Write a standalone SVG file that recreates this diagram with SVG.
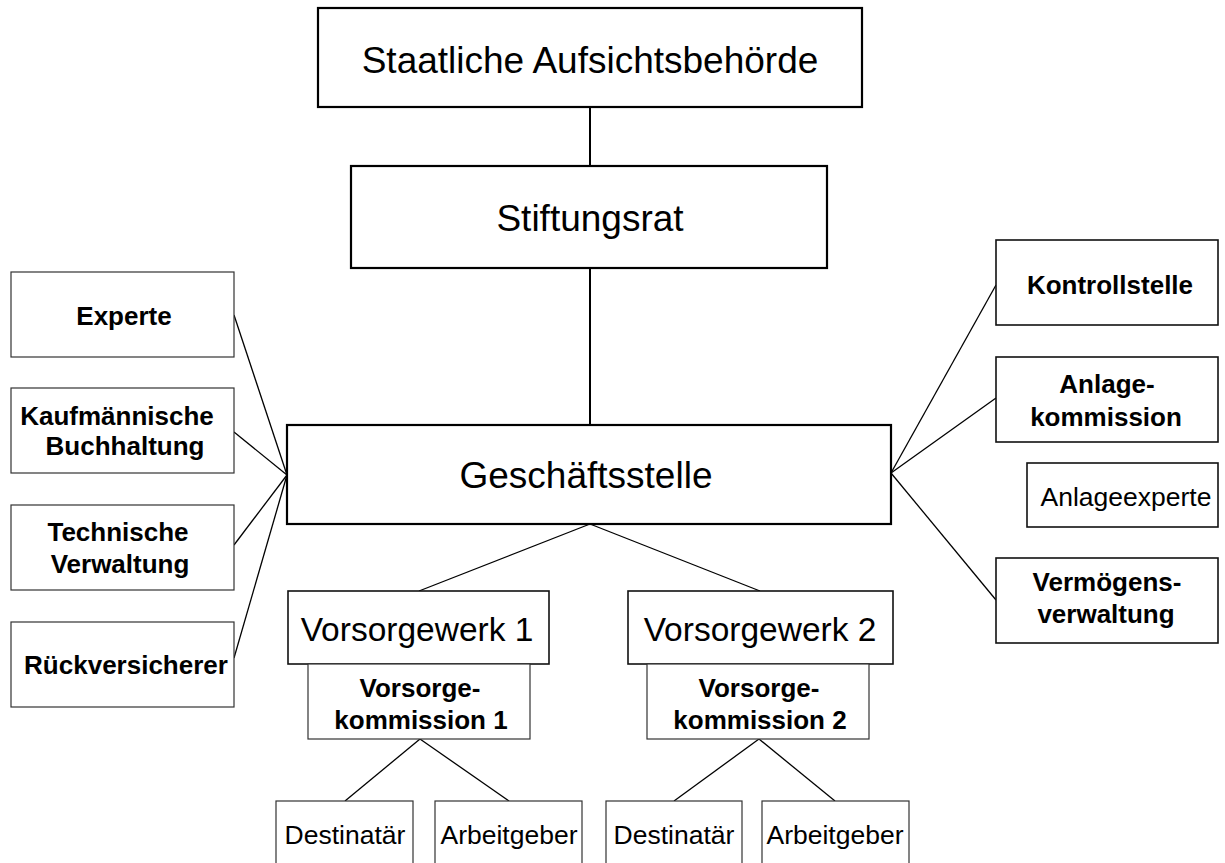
<svg xmlns="http://www.w3.org/2000/svg" width="1225" height="863" viewBox="0 0 1225 863">
<style>
.big{fill:#fff;stroke:#000;stroke-width:2.2}
.mid{fill:#fff;stroke:#111;stroke-width:1.6}
.sm{fill:#fff;stroke:#333;stroke-width:1.2}
.tl{font-family:"Liberation Sans",Arial,sans-serif;font-size:37px;fill:#000;text-anchor:middle}
.tm{font-family:"Liberation Sans",Arial,sans-serif;font-size:33.5px;fill:#000;text-anchor:middle}
.tb{font-family:"Liberation Sans",Arial,sans-serif;font-size:26px;font-weight:bold;fill:#000;text-anchor:middle}
.tr{font-family:"Liberation Sans",Arial,sans-serif;font-size:26.5px;fill:#000;text-anchor:middle}
.ln{stroke:#000;stroke-width:1.3;fill:none}
.lt{stroke:#000;stroke-width:2;fill:none}
</style>
<rect width="1225" height="863" fill="#fff"/>
<g id="connectors">
<line class="lt" x1="590" y1="107" x2="590" y2="166"/>
<line class="lt" x1="590" y1="268" x2="590" y2="425"/>
<line class="ln" x1="234" y1="315" x2="287" y2="475"/>
<line class="ln" x1="234" y1="432" x2="287" y2="475"/>
<line class="ln" x1="234" y1="545" x2="287" y2="475"/>
<line class="ln" x1="234" y1="658" x2="287" y2="475"/>
<line class="ln" x1="891" y1="473" x2="996" y2="285"/>
<line class="ln" x1="891" y1="473" x2="996" y2="398"/>
<line class="ln" x1="891" y1="473" x2="996" y2="600"/>
<line class="ln" x1="590" y1="524" x2="419" y2="591"/>
<line class="ln" x1="590" y1="524" x2="760" y2="591"/>
<line class="ln" x1="420" y1="739" x2="345" y2="801"/>
<line class="ln" x1="420" y1="739" x2="509" y2="801"/>
<line class="ln" x1="759" y1="739" x2="674" y2="801"/>
<line class="ln" x1="759" y1="739" x2="835" y2="801"/>
</g>
<g id="aufsicht"><rect class="big" x="318" y="8" width="544" height="99"/><text class="tl" x="590" y="73">Staatliche Aufsichtsbehörde</text></g>
<g id="stiftungsrat"><rect class="big" x="351" y="166" width="476" height="102"/><text class="tl" x="590" y="231">Stiftungsrat</text></g>
<g id="geschaeftsstelle"><rect class="big" x="287" y="425" width="604" height="99"/><text class="tl" x="586" y="488">Geschäftsstelle</text></g>
<g id="experte"><rect class="sm" x="11" y="272" width="223" height="85"/><text class="tb" x="124" y="325">Experte</text></g>
<g id="buchhaltung"><rect class="sm" x="11" y="388" width="223" height="85"/><text class="tb" x="117" y="425">Kaufmännische</text><text class="tb" x="125" y="455">Buchhaltung</text></g>
<g id="technische"><rect class="sm" x="11" y="505" width="223" height="85"/><text class="tb" x="118" y="541">Technische</text><text class="tb" x="120" y="573">Verwaltung</text></g>
<g id="rueckversicherer"><rect class="sm" x="11" y="622" width="223" height="85"/><text class="tb" x="126" y="674">Rückversicherer</text></g>
<g id="kontrollstelle"><rect class="mid" x="996" y="240" width="222" height="85"/><text class="tb" x="1110" y="294">Kontrollstelle</text></g>
<g id="anlagekommission"><rect class="mid" x="996" y="357" width="222" height="85"/><text class="tb" x="1107" y="393">Anlage-</text><text class="tb" x="1106" y="426">kommission</text></g>
<g id="anlageexperte"><rect class="mid" x="1027" y="463" width="191" height="64"/><text class="tr" x="1126" y="506">Anlageexperte</text></g>
<g id="vermoegensverwaltung"><rect class="mid" x="996" y="558" width="222" height="85"/><text class="tb" x="1107" y="591">Vermögens-</text><text class="tb" x="1106" y="623">verwaltung</text></g>
<g id="vorsorgewerk1"><rect class="mid" x="288" y="591" width="261" height="73"/><text class="tm" x="417" y="641">Vorsorgewerk 1</text></g>
<g id="vorsorgekommission1"><rect class="sm" x="308" y="664" width="222" height="75"/><text class="tb" x="420" y="697">Vorsorge-</text><text class="tb" x="421" y="729">kommission 1</text></g>
<g id="vorsorgewerk2"><rect class="mid" x="628" y="591" width="265" height="73"/><text class="tm" x="760" y="641">Vorsorgewerk 2</text></g>
<g id="vorsorgekommission2"><rect class="sm" x="647" y="664" width="222" height="75"/><text class="tb" x="759" y="697">Vorsorge-</text><text class="tb" x="760" y="729">kommission 2</text></g>
<g id="destinataer1"><rect class="sm" x="276" y="801" width="137" height="70"/><text class="tr" x="345" y="844">Destinatär</text></g>
<g id="arbeitgeber1"><rect class="sm" x="435" y="801" width="147" height="70"/><text class="tr" x="509" y="844">Arbeitgeber</text></g>
<g id="destinataer2"><rect class="sm" x="606" y="801" width="136" height="70"/><text class="tr" x="674" y="844">Destinatär</text></g>
<g id="arbeitgeber2"><rect class="sm" x="762" y="801" width="147" height="70"/><text class="tr" x="835" y="844">Arbeitgeber</text></g>
</svg>
